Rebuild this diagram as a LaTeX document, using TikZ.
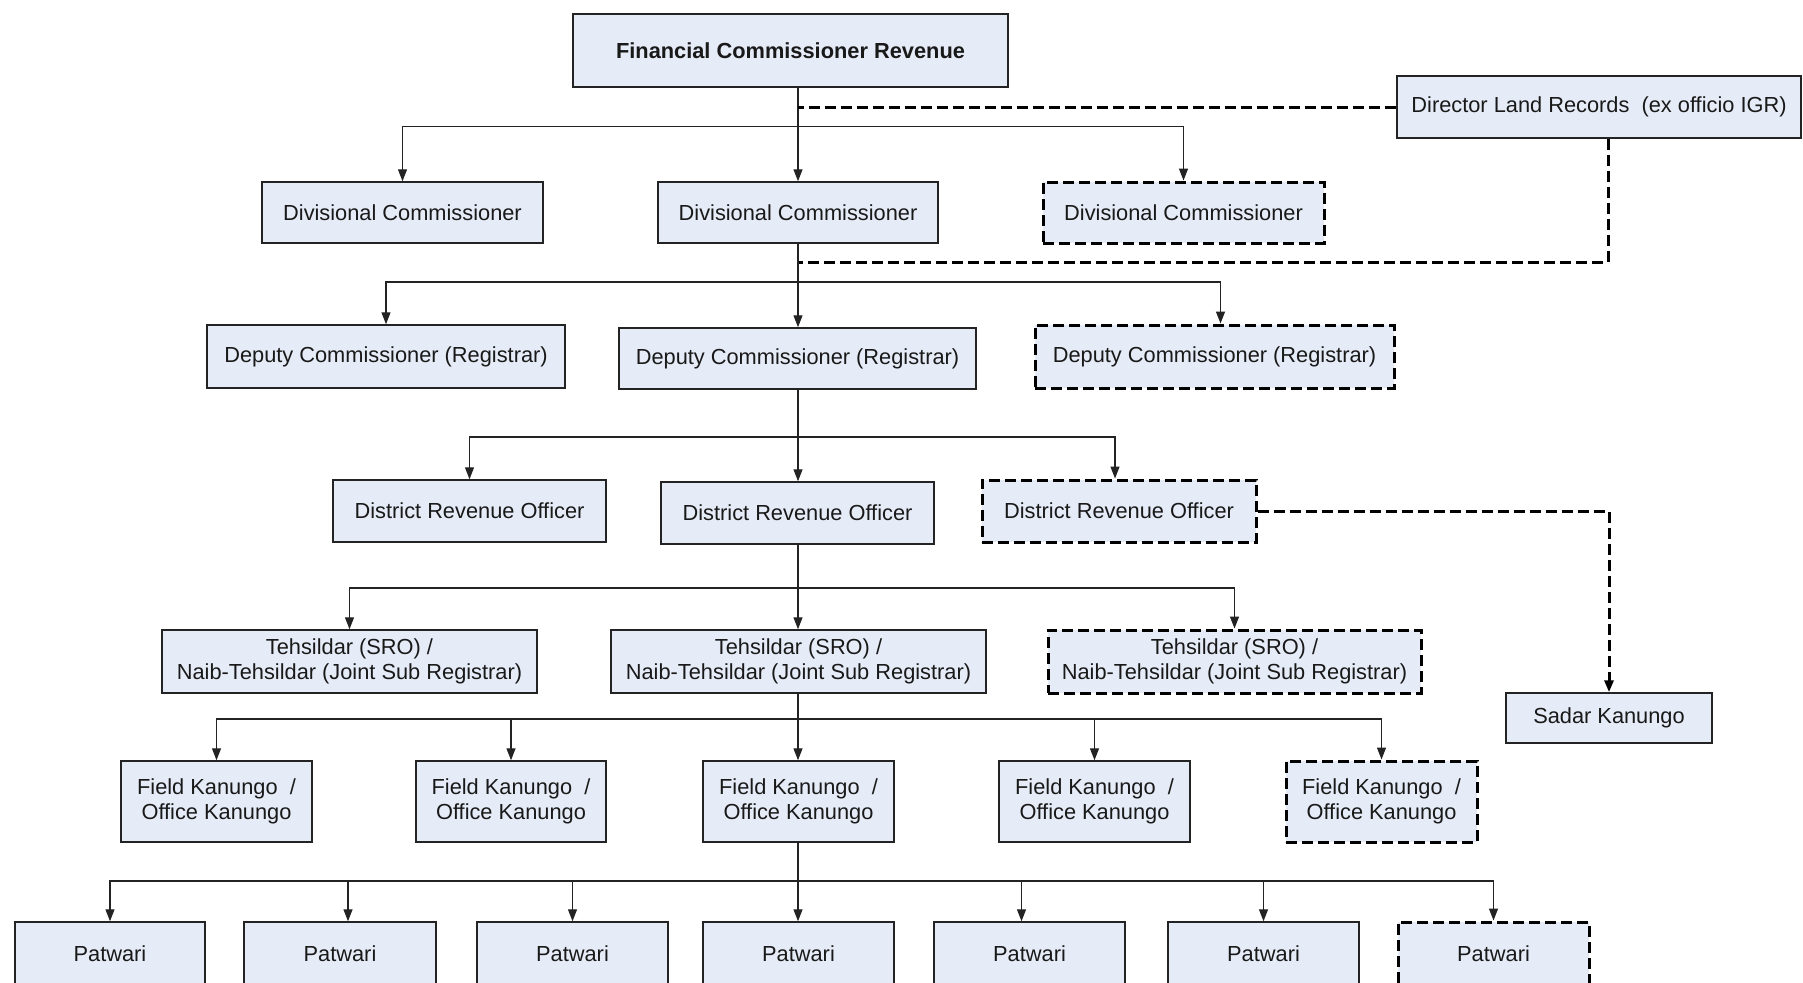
\documentclass[tikz,border=0pt]{standalone}
\usepackage{fontspec}
\setmainfont{Liberation Sans}
\usetikzlibrary{arrows.meta}

\definecolor{boxfill}{RGB}{230,236,247}
\definecolor{boxline}{RGB}{35,35,35}

% one unit = one pixel of the chart, y pointing down
\tikzset{
  x=0.5pt, y=-0.5pt,
  orgbox/.style={draw=boxline, fill=boxfill, line width=0.75pt, inner sep=0pt,
    align=center, text=black!90, font=\fontsize{10.9}{12.65}\selectfont},
  orgdash/.style={orgbox, draw=black, line width=1.5pt, dash pattern=on 5.5pt off 2.5pt},
  link/.style={draw=boxline, line width=0.65pt},
  conn/.style={link, -{Triangle[length=6pt,width=4.5pt]}},
  dashlink/.style={draw=black, line width=1.5pt, dash pattern=on 5.5pt off 2.5pt},
  dashconn/.style={dashlink, -{Triangle[length=6pt,width=4.5pt]}},
}

% style, name, left, top, right, bottom, text
\newcommand\orgnode[7]{%
  \node[#1, minimum width={(#5-#3)*0.5pt}, minimum height={(#6-#4)*0.5pt}]
    (#2) at ({(#3+#5)/2},{(#4+#6)/2}) {#7};}

\begin{document}
\begin{tikzpicture}
\path[use as bounding box] (0,0) rectangle (1803,982);
\clip (0,0) rectangle (1803,982);

% top level
\orgnode{orgbox,font=\fontsize{10.9}{12.65}\selectfont\bfseries}{fcr}{573}{14}{1008}{87}{Financial Commissioner Revenue}
\orgnode{orgbox}{dlr}{1397}{76}{1801}{138}{Director Land Records\ \ (ex officio IGR)}

% divisional commissioners
\orgnode{orgbox}{dcA}{262}{182}{543}{243}{Divisional Commissioner}
\orgnode{orgbox}{dcB}{658}{182}{938}{243}{Divisional Commissioner}
\orgnode{orgdash}{dcC}{1043}{182}{1324}{243}{Divisional Commissioner}

% deputy commissioners
\orgnode{orgbox}{dcrA}{207}{325}{565}{388}{Deputy Commissioner (Registrar)}
\orgnode{orgbox}{dcrB}{619}{328}{976}{389}{Deputy Commissioner (Registrar)}
\orgnode{orgdash}{dcrC}{1035}{325}{1394}{388}{Deputy Commissioner (Registrar)}

% district revenue officers
\orgnode{orgbox}{droA}{333}{480}{606}{542}{District Revenue Officer}
\orgnode{orgbox}{droB}{661}{482}{934}{544}{District Revenue Officer}
\orgnode{orgdash}{droC}{982}{480}{1256}{542}{District Revenue Officer}
\orgnode{orgbox}{sadar}{1506}{693}{1712}{743}{Sadar Kanungo}

% tehsildars
\orgnode{orgbox}{tA}{162}{630}{537}{693}{Tehsildar (SRO) /\\Naib-Tehsildar (Joint Sub Registrar)}
\orgnode{orgbox}{tB}{611}{630}{986}{693}{Tehsildar (SRO) /\\Naib-Tehsildar (Joint Sub Registrar)}
\orgnode{orgdash}{tC}{1048}{630}{1421}{693}{Tehsildar (SRO) /\\Naib-Tehsildar (Joint Sub Registrar)}

% kanungos
\orgnode{orgbox}{fkA}{121}{761}{312}{842}{Field Kanungo\ \ /\\Office Kanungo}
\orgnode{orgbox}{fkB}{416}{761}{606}{842}{Field Kanungo\ \ /\\Office Kanungo}
\orgnode{orgbox}{fkC}{703}{761}{894}{842}{Field Kanungo\ \ /\\Office Kanungo}
\orgnode{orgbox}{fkD}{999}{761}{1190}{842}{Field Kanungo\ \ /\\Office Kanungo}
\orgnode{orgdash}{fkE}{1286}{761}{1477}{842}{Field Kanungo\ \ /\\Office Kanungo}

% patwaris
\orgnode{orgbox}{pA}{15}{922}{205}{986}{Patwari}
\orgnode{orgbox}{pB}{244}{922}{436}{986}{Patwari}
\orgnode{orgbox}{pC}{477}{922}{668}{986}{Patwari}
\orgnode{orgbox}{pD}{703}{922}{894}{986}{Patwari}
\orgnode{orgbox}{pE}{934}{922}{1125}{986}{Patwari}
\orgnode{orgbox}{pF}{1168}{922}{1359}{986}{Patwari}
\orgnode{orgdash}{pG}{1398}{922}{1589}{986}{Patwari}

% bus bars, all hanging from one trunk line
\coordinate (bus1) at (798,126.5);
\coordinate (bus2) at (798,282);
\coordinate (bus3) at (798,437);
\coordinate (bus4) at (798,588);
\coordinate (bus5) at (798,719);
\coordinate (bus6) at (798,881);
\coordinate (dlrjoin) at (798,262);

% level 1
\draw[conn] (fcr.south -| bus1) -- (dcB.north -| bus1);
\draw[conn] (bus1) -| (dcA.north);
\draw[conn] (bus1) -| (dcC.north);
\draw[dashlink] (dlr.west) -- (dlr.west -| bus1);
\draw[dashlink] ([xshift=4.5pt]dlr.south) |- (dlrjoin);

% level 2
\draw[conn] (dcB.south -| bus2) -- (dcrB.north -| bus2);
\draw[conn] (bus2) -| (dcrA.north);
\draw[conn] (bus2) -| ([xshift=3pt]dcrC.north);

% level 3
\draw[conn] (dcrB.south -| bus3) -- (droB.north -| bus3);
\draw[conn] (bus3) -| (droA.north);
\draw[conn] (bus3) -| ([xshift=-2pt]droC.north);
\draw[dashconn] (droC.east) -| (sadar.north);

% level 4
\draw[conn] (droB.south -| bus4) -- (tB.north -| bus4);
\draw[conn] (bus4) -| (tA.north);
\draw[conn] (bus4) -| (tC.north);

% level 5
\draw[conn] (tB.south -| bus5) -- (fkC.north -| bus5);
\draw[conn] (bus5) -| (fkA.north);
\draw[conn] (bus5) -| (fkB.north);
\draw[conn] (bus5) -| (fkD.north);
\draw[conn] (bus5) -| (fkE.north);

% level 6
\draw[conn] (fkC.south -| bus6) -- (pD.north -| bus6);
\draw[conn] (bus6) -| (pA.north);
\draw[conn] (bus6) -| ([xshift=4pt]pB.north);
\draw[conn] (bus6) -| (pC.north);
\draw[conn] (bus6) -| ([xshift=-4pt]pE.north);
\draw[conn] (bus6) -| (pF.north);
\draw[conn] (bus6) -| (pG.north);
\end{tikzpicture}
\end{document}
